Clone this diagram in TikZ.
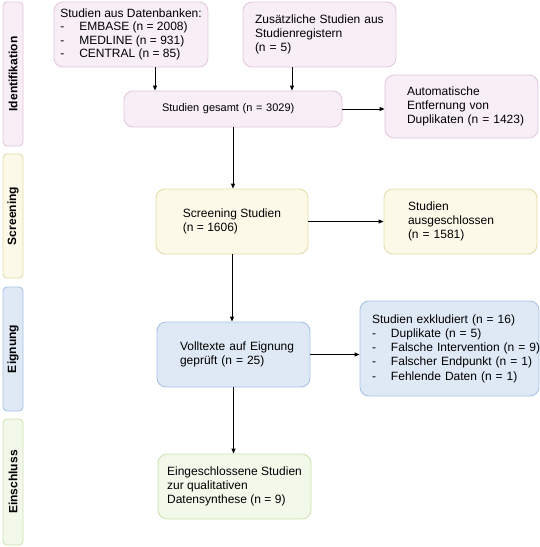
\documentclass[tikz,border=0pt]{standalone}
\usepackage{fontspec}
\setmainfont{Liberation Sans}
\usetikzlibrary{arrows.meta,calc}

\definecolor{pinkfill}{HTML}{F8EEF6}
\definecolor{pinkdraw}{HTML}{E3C9DE}
\definecolor{yellowfill}{HTML}{FCF9E8}
\definecolor{yellowdraw}{HTML}{E6DCA8}
\definecolor{bluefill}{HTML}{DFE9F6}
\definecolor{bluedraw}{HTML}{A8C3E6}
\definecolor{greenfill}{HTML}{F2F8EA}
\definecolor{greendraw}{HTML}{CDE4B4}

% list item: dash followed by an unbreakable entry
\newcommand{\li}[1]{\makebox[19pt][l]{-}\mbox{#1}}
\hyphenpenalty=10000
\exhyphenpenalty=10000
\hbadness=10000
\hfuzz=20pt

\tikzset{
  box/.style={rounded corners=9pt, line width=0.9pt, inner sep=0pt,
    align=left, font=\fontsize{12}{14.3}\selectfont},
  phase/.style={rounded corners=4pt, line width=0.9pt, inner sep=0pt,
    minimum height=20pt, rotate=90, font=\fontsize{12}{14}\selectfont\bfseries},
  pinkbox/.style={fill=pinkfill, draw=pinkdraw},
  yellowbox/.style={fill=yellowfill, draw=yellowdraw},
  bluebox/.style={fill=bluefill, draw=bluedraw},
  greenbox/.style={fill=greenfill, draw=greendraw},
  arr/.style={-{Triangle[length=5pt,width=4pt]}, line width=1pt, black},
}

\begin{document}
\begin{tikzpicture}[x=1pt, y=-1pt]
\useasboundingbox (0,0) rectangle (540,547);

% phase bars on the left
\node[phase, pinkbox,   minimum width=144pt] (pIdent) at (13,74)  {Identifikation};
\node[phase, yellowbox, minimum width=124pt] (pScr)   at (13,216) {Screening};
\node[phase, bluebox,   minimum width=124pt] (pEig)   at (13,349) {Eignung};
\node[phase, greenbox,  minimum width=126pt] (pEin)   at (13,482) {Einschluss};

% identification
\node[box, pinkbox, minimum width=154pt, minimum height=65pt,
      font=\fontsize{12}{13.4}\selectfont] (db) at (131,34.5)
  {Studien aus Datenbanken:\\\li{EMBASE (n = 2008)}\\\li{MEDLINE (n = 931)}\\\li{CENTRAL (n = 85)}};
\node[box, pinkbox, minimum width=153pt, minimum height=65pt, text width=129pt] (reg) at (319.5,34.5)
  {\mbox{Zusätzliche Studien aus}\\Studienregistern\\(n = 5)};
\node[box, pinkbox, minimum width=218pt, minimum height=36pt, text width=142pt,
      font=\fontsize{11}{13}\selectfont] (total) at (233,109)
  {Studien gesamt (n = 3029)};
\node[box, pinkbox, minimum width=153pt, minimum height=63pt, text width=109pt] (dup) at (461.5,106.5)
  {Automatische\\Entfernung von\\\mbox{Duplikaten (n = 1423)}};

% screening
\node[box, yellowbox, minimum width=152pt, minimum height=65pt] (scr) at (232,221.5)
  {Screening Studien\\(n = 1606)};
\node[box, yellowbox, minimum width=153pt, minimum height=65pt, text width=105pt] (excl) at (460.5,221.5)
  {Studien\\ausgeschlossen\\(n = 1581)};

% eligibility
\node[box, bluebox, minimum width=153pt, minimum height=65pt, text width=107pt] (full) at (233.5,354.5)
  {\mbox{Volltexte auf Eignung}\\geprüft (n = 25)};
\node[box, bluebox, minimum width=179pt, minimum height=95pt, text width=155pt] (exk) at (449.5,348.5)
  {\mbox{Studien exkludiert (n = 16)}\\\li{Duplikate (n = 5)}\\\li{Falsche Intervention (n = 9)}\\\li{Falscher Endpunkt (n = 1)}\\\li{Fehlende Daten (n = 1)}};

% inclusion
\node[box, greenbox, minimum width=153pt, minimum height=65pt] (incl) at (234.5,486.5)
  {Eingeschlossene Studien\\zur qualitativen\\Datensynthese (n = 9)};

% connectors
\coordinate (dbOut)  at ($(db.south)+(24,0)$);
\coordinate (regOut) at ($(reg.south)+(-27.5,0)$);
\draw[arr] (dbOut) -- (dbOut |- total.north);
\draw[arr] (regOut) -- (regOut |- total.north);
\draw[arr] (total.east) -- (total.east -| dup.west);
\draw[arr] (total.south) -- (total.south |- scr.north);
\draw[arr] (scr.east) -- (scr.east -| excl.west);
\draw[arr] (scr.south) -- (scr.south |- full.north);
\draw[arr] (full.east) -- (full.east -| exk.west);
\draw[arr] (full.south) -- (full.south |- incl.north);
\end{tikzpicture}
\end{document}
